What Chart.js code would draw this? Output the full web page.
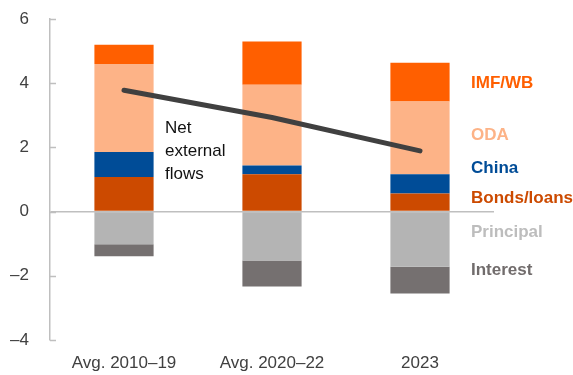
<!DOCTYPE html>
<html>
<head>
<meta charset="utf-8">
<script src="https://cdn.jsdelivr.net/npm/chart.js@4.4.1/dist/chart.umd.min.js"></script>
<style>
  html, body { margin: 0; padding: 0; background: #fff; }
  #wrap { width: 573px; height: 375px; position: relative; }
</style>
</head>
<body>
<div id="wrap"><canvas id="flows"></canvas></div>
<script>
const categories = ['Avg. 2010–19', 'Avg. 2020–22', '2023'];

// inflows (stacked above zero)
const bondsLoans = [1.08, 1.16, 0.56];
const china = [0.78, 0.28, 0.60];
const oda = [2.74, 2.51, 2.27];
const imfWb = [0.60, 1.35, 1.21];

// outflows (stacked below zero)
const principal = [-1.02, -1.52, -1.72];
const interest = [-0.37, -0.81, -0.83];

const netFlows = [3.78, 2.93, 1.89];

const yTicks = [-4, -2, 0, 2, 4, 6];

const FONT = "'Liberation Sans', Arial, sans-serif";
const AXIS_GRAY = '#bfbfbf';

// series names shown at the right of the last bar
const sideLabels = [
  { text: 'IMF/WB', color: '#ff5f00', at: 4.0 },
  { text: 'ODA', color: '#fdb387', at: 2.39 },
  { text: 'China', color: '#004c97', at: 1.35 },
  { text: 'Bonds/loans', color: '#cc4a00', at: 0.42 },
  { text: 'Principal', color: '#bdbdbd', at: -0.64 },
  { text: 'Interest', color: '#716c6c', at: -1.83 }
];

const annotations = {
  id: 'annotations',
  afterDraw(chart) {
    const ctx = chart.ctx;
    const y = chart.scales.y;
    const x = chart.scales.x;
    const area = chart.chartArea;

    // short inward tick marks on the value axis
    ctx.save();
    ctx.strokeStyle = AXIS_GRAY;
    ctx.lineWidth = 1.5;
    yTicks.forEach(v => {
      const py = Math.round(y.getPixelForValue(v)) + 0.5;
      ctx.beginPath();
      ctx.moveTo(area.left, py);
      ctx.lineTo(area.left + 6, py);
      ctx.stroke();
    });

    // right-hand series labels
    ctx.font = 'bold 17px ' + FONT;
    ctx.textBaseline = 'middle';
    ctx.textAlign = 'left';
    sideLabels.forEach(l => {
      ctx.fillStyle = l.color;
      ctx.fillText(l.text, area.right - 23, y.getPixelForValue(l.at));
    });

    // line label
    ctx.font = '17px ' + FONT;
    ctx.fillStyle = '#111';
    const lx = x.getPixelForValue(0) + 41;
    ['Net', 'external', 'flows'].forEach((t, i) => {
      ctx.fillText(t, lx, y.getPixelForValue(2.6) + i * 23);
    });
    ctx.restore();
  }
};

const barSet = (label, data, color) => ({
  type: 'bar',
  label,
  data,
  backgroundColor: color,
  borderWidth: 0,
  categoryPercentage: 1,
  barPercentage: 0.4,
  order: 1
});

new Chart(document.getElementById('flows'), {
  data: {
    labels: categories,
    datasets: [
      {
        type: 'line',
        label: 'Net external flows',
        data: netFlows,
        borderColor: '#404040',
        borderWidth: 5,
        borderCapStyle: 'round',
        pointRadius: 0,
        tension: 0,
        stack: 'net',
        order: 0
      },
      barSet('Bonds/loans', bondsLoans, '#cc4a00'),
      barSet('China', china, '#004c97'),
      barSet('ODA', oda, '#fdb387'),
      barSet('IMF/WB', imfWb, '#ff5f00'),
      barSet('Principal', principal, '#b4b4b4'),
      barSet('Interest', interest, '#757070')
    ]
  },
  options: {
    responsive: true,
    maintainAspectRatio: false,
    animation: false,
    layout: { padding: { left: 10, right: 79, top: 19, bottom: 0 } },
    plugins: {
      legend: { display: false },
      tooltip: { enabled: false }
    },
    scales: {
      x: {
        stacked: true,
        offset: true,
        grid: { display: false, drawTicks: false },
        border: { display: false },
        afterFit(scale) { scale.height = 35; },
        ticks: {
          padding: 13,
          color: '#404040',
          font: { size: 17, family: FONT }
        }
      },
      y: {
        stacked: true,
        min: -4,
        max: 6,
        afterBuildTicks(scale) {
          scale.ticks = yTicks.map(v => ({ value: v }));
        },
        afterFit(scale) {
          scale.width = 40;
          scale.paddingTop = 0;
          scale.paddingBottom = 0;
        },
        grid: {
          drawTicks: false,
          color: ctx => ctx.tick && ctx.tick.value === 0 ? AXIS_GRAY : 'rgba(0,0,0,0)',
          lineWidth: 1.5
        },
        border: { display: true, color: AXIS_GRAY, width: 1.5 },
        ticks: {
          padding: 21,
          color: '#404040',
          font: { size: 17, family: FONT },
          callback: v => v < 0 ? '–' + Math.abs(v) : String(v)
        }
      }
    }
  },
  plugins: [annotations]
});
</script>
</body>
</html>
